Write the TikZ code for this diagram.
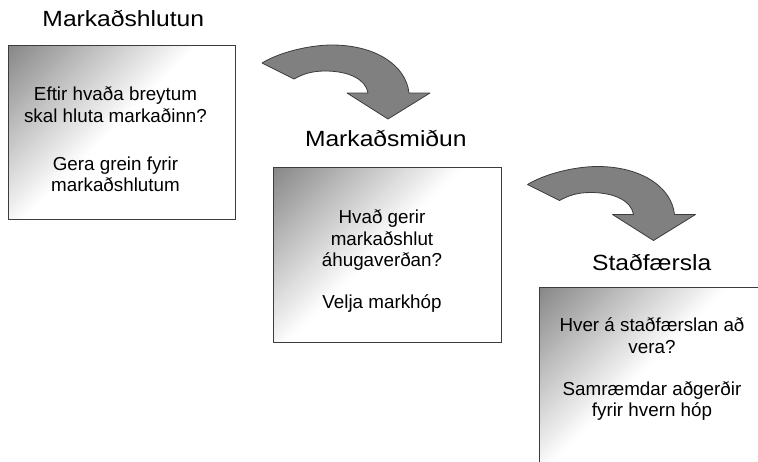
\documentclass[tikz,border=0pt]{standalone}
\usepackage{fontspec}
\setmainfont{Liberation Sans}
\usepackage{graphicx}
\usetikzlibrary{fit}

\definecolor{framegray}{RGB}{60,60,60}
\definecolor{arrowfill}{RGB}{128,128,128}
\definecolor{arrowline}{RGB}{60,60,60}

\tikzset{
  boxframe/.style={draw=framegray, line width=1pt, inner sep=0pt},
  heading/.style={anchor=base, inner sep=0pt, font=\fontsize{22}{26}\selectfont},
  bodyline/.style={anchor=base, inner sep=0pt, font=\fontsize{18.8}{22}\selectfont},
  bendarrow/.pic={
    \path[draw=arrowline, fill=arrowfill, line width=0.8pt, line join=round]
      (262,63) -- (294,79)
      .. controls (303,74) and (312,71) .. (325,71)
      .. controls (350,71) and (366,80) .. (368,93)
      -- (347,93) -- (388,119) -- (430,93) -- (409,93)
      .. controls (406,65) and (375,45) .. (332,45)
      .. controls (310,45) and (280,52) .. (262,63) -- cycle;
  }
}

% white box with a grey wash running in from its top-left corner;
% the wash is built from overlapping half-planes whose edges are
% perpendicular to the diagonal direction (1,1), y pointing down
\newcommand\gradbox[3]{%
  \begin{scope}
    \clip #2 rectangle #3;
    \fill[white] #2 rectangle #3;
    \begin{scope}[shift={#2}]
      \foreach \i in {0,...,56}{
        \pgfmathsetmacro\dd{2.5*\i}
        \pgfmathsetmacro\g{min(1,(135+0.9*\dd)/255)}
        \definecolor{washc}{gray}{\g}
        \fill[washc]
          ({0.707*\dd+282.8},{0.707*\dd-282.8}) -- ({0.707*\dd-282.8},{0.707*\dd+282.8})
          -- ({0.707*\dd},{0.707*\dd+565.6}) -- ({0.707*\dd+565.6},{0.707*\dd}) -- cycle;
      }
    \end{scope}
  \end{scope}
  \node[boxframe, fit={#2 #3}] (#1) {};
}

\begin{document}
\begin{tikzpicture}[x=1pt, y=-1pt]
  \useasboundingbox (0,0) rectangle (758,461);

  % boxes
  \gradbox{seg}{(8,45)}{(235,219)}
  \gradbox{tgt}{(273,167)}{(501,342)}
  \gradbox{pos}{(539,287)}{(766,463)}

  % bent arrows between the stages
  \pic (bendA) at (0,0) {bendarrow};
  \pic (bendB) at (265.5,121.5) {bendarrow};

  % stage headings
  \node[heading] (hseg) at (123.3,26.7) {\scalebox{1.12}[1]{Markaðshlutun}};
  \node[heading] (htgt) at (385.8,146.7) {\scalebox{1.12}[1]{Markaðsmiðun}};
  \node[heading] (hpos) at (651.7,270) {\scalebox{1.12}[1]{Staðfærsla}};

  % segmentation
  \node[bodyline] (s1) at (115.5,100.5) {Eftir hvaða breytum};
  \node[bodyline] (s2) at (115.5,122) {skal hluta markaðinn?};
  \node[bodyline] (s3) at (115.5,170) {Gera grein fyrir};
  \node[bodyline] (s4) at (115.5,191) {markaðshlutum};

  % targeting
  \node[bodyline] (t1) at (382,223) {Hvað gerir};
  \node[bodyline] (t2) at (382,245) {markaðshlut};
  \node[bodyline] (t3) at (382,266.5) {áhugaverðan?};
  \node[bodyline] (t4) at (382,308) {Velja markhóp};

  % positioning
  \node[bodyline] (p1) at (652,331.5) {Hver á staðfærslan að};
  \node[bodyline] (p2) at (652,353) {vera?};
  \node[bodyline] (p3) at (652,395) {Samræmdar aðgerðir};
  \node[bodyline] (p4) at (652,416.5) {fyrir hvern hóp};
\end{tikzpicture}
\end{document}
